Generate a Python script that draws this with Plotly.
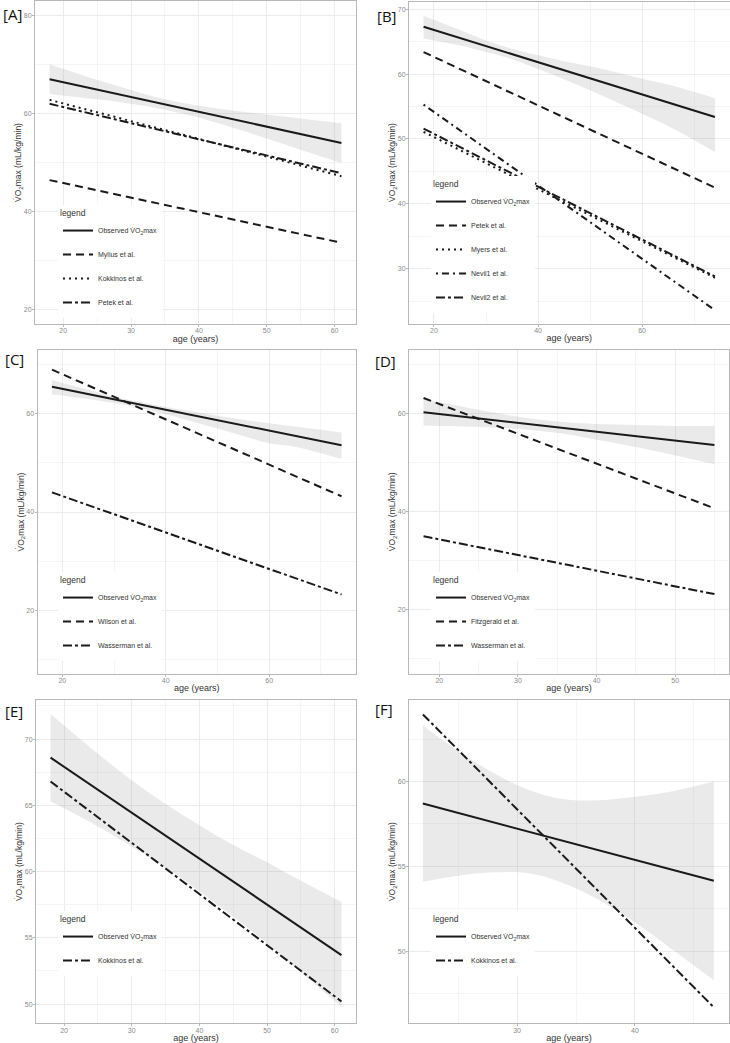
import plotly.graph_objects as go

W, H = 730, 1043

# ---------------- data ----------------
# Panel A
A_age = [18, 61]
A_observed = [67.0, 54.0]
A_mylius = [46.4, 33.6]
A_kokkinos = [62.8, 47.2]
A_petek = [62.0, 47.8]
A_ci_age = [18, 25, 30, 35, 40, 45, 50, 55, 61]
A_ci_upper = [70.1, 66.9, 64.8, 62.9, 61.6, 60.6, 59.8, 59.0, 58.0]
A_ci_lower = [64.0, 62.9, 62.0, 60.8, 59.2, 57.1, 54.9, 52.6, 49.9]

# Panel B
B_age = [18, 74]
B_observed = [67.3, 53.4]
B_petek = [63.4, 42.5]
B_myers = [51.1, 28.6]
B_nevil1 = [55.3, 23.6]
B_nevil2 = [51.6, 28.8]
B_ci_age = [18, 25, 30, 35, 40, 45, 50, 55, 60, 65, 74]
B_ci_upper = [69.0, 66.8, 65.2, 63.9, 62.9, 62.0, 61.2, 60.3, 59.3, 58.4, 56.3]
B_ci_lower = [65.5, 64.4, 63.4, 62.3, 60.8, 59.2, 57.5, 55.7, 53.9, 52.0, 48.0]

# Panel C
C_age = [18, 74]
C_observed = [65.5, 53.6]
C_wilson = [69.0, 43.2]
C_wasserman = [44.0, 23.2]
C_ci_age = [18, 25, 30, 35, 40, 45, 50, 55, 60, 65, 74]
C_ci_upper = [66.9, 64.9, 63.5, 62.4, 61.4, 60.5, 59.6, 58.8, 58.1, 57.4, 56.2]
C_ci_lower = [64.0, 63.0, 62.2, 61.2, 59.9, 58.5, 57.0, 55.5, 54.0, 53.3, 50.8]

# Panel D
D_age = [18, 55]
D_observed = [60.3, 53.6]
D_fitzgerald = [63.2, 40.7]
D_wasserman = [35.0, 23.2]
D_ci_age = [18, 25, 30, 35, 40, 45, 50, 55]
D_ci_upper = [63.0, 60.8, 59.4, 58.4, 57.9, 57.7, 57.5, 57.5]
D_ci_lower = [57.6, 57.3, 56.9, 56.1, 54.7, 53.2, 51.5, 49.7]

# Panel E
E_age = [18, 61]
E_observed = [68.6, 53.7]
E_kokkinos = [66.8, 50.2]
E_ci_age = [18, 25, 30, 35, 40, 45, 50, 55, 61]
E_ci_upper = [71.9, 68.9, 66.9, 65.1, 63.5, 62.0, 60.7, 59.3, 57.7]
E_ci_lower = [65.3, 63.4, 61.9, 60.3, 58.5, 56.6, 54.6, 52.4, 49.8]

# Panel F
F_age = [22, 46.7]
F_observed = [58.7, 54.15]
F_kokkinos = [63.95, 46.7]
F_ci_age = [22, 25, 28, 31, 34, 37, 40, 43, 46.7]
F_ci_upper = [63.3, 61.8, 60.5, 59.5, 58.95, 58.9, 59.1, 59.4, 60.0]
F_ci_lower = [54.1, 54.45, 54.65, 54.6, 54.0, 53.0, 51.7, 50.2, 48.3]

# ---------------- styling ----------------
INK = "#1a1a1a"
BAND = "rgba(150,150,150,0.2)"
FONT = "Liberation Sans"
SOLID = "solid"
DASHED = "8px,5px"
DOTTED = "2px,4px"
TWODASH = "9px,3px,3px,3px"
DOTDASH = "2px,4px,7px,4px"
OBS = "Observed V\u0307O<sub>2</sub>max"

panels = [
    dict(name="A", age=A_age, ci=(A_ci_age, A_ci_upper, A_ci_lower),
         lines=[(OBS, A_observed, SOLID), ("Mylius et al.", A_mylius, DASHED),
                ("Kokkinos et al.", A_kokkinos, DOTTED), ("Petek et al.", A_petek, TWODASH)],
         px=(35, 356, 1, 324), xr=(15.85, 63.15), yr=(17, 83),
         xd=(10, 5), yd=(20, 10), leg=(58, 205)),
    dict(name="B", age=B_age, ci=(B_ci_age, B_ci_upper, B_ci_lower),
         lines=[(OBS, B_observed, SOLID), ("Petek et al.", B_petek, DASHED),
                ("Myers et al.", B_myers, DOTTED), ("Nevil1 et al.", B_nevil1, DOTDASH),
                ("Nevil2 et al.", B_nevil2, TWODASH)],
         px=(409, 729.5, 1.5, 323.5), xr=(15.2, 76.8), yr=(21.55, 71.2),
         xd=(20, 10), yd=(10, 5), leg=(431, 176)),
    dict(name="C", age=C_age, ci=(C_ci_age, C_ci_upper, C_ci_lower),
         lines=[(OBS, C_observed, SOLID), ("Wilson et al.", C_wilson, DASHED),
                ("Wasserman et al.", C_wasserman, TWODASH)],
         px=(37.5, 356, 350, 674), xr=(15.2, 76.8), yr=(7, 73),
         xd=(20, 10), yd=(20, 10), leg=(58, 572)),
    dict(name="D", age=D_age, ci=(D_ci_age, D_ci_upper, D_ci_lower),
         lines=[(OBS, D_observed, SOLID), ("Fitzgerald et al.", D_fitzgerald, DASHED),
                ("Wasserman et al.", D_wasserman, TWODASH)],
         px=(409, 729, 350, 673.5), xr=(16.15, 56.85), yr=(7, 73),
         xd=(10, 5), yd=(20, 10), leg=(431, 572)),
    dict(name="E", age=E_age, ci=(E_ci_age, E_ci_upper, E_ci_lower),
         lines=[(OBS, E_observed, SOLID), ("Kokkinos et al.", E_kokkinos, TWODASH)],
         px=(36, 356, 700, 1023.3), xr=(15.85, 63.15), yr=(48.55, 72.95),
         xd=(10, 5), yd=(5, 2.5), leg=(58, 911)),
    dict(name="F", age=F_age, ci=(F_ci_age, F_ci_upper, F_ci_lower),
         lines=[(OBS, F_observed, SOLID), ("Kokkinos et al.", F_kokkinos, TWODASH)],
         px=(409, 729, 700, 1023.3), xr=(20.82, 47.99), yr=(45.76, 64.8),
         xd=(10, 5), yd=(5, 2.5), leg=(431, 911)),
]

label_pos = {"A": (1, 2), "B": (375, 4), "C": (3, 347), "D": (373, 349),
             "E": (3, 699), "F": (373, 697)}

fig = go.Figure()
layout = dict(width=W, height=H, margin=dict(l=0, r=0, t=0, b=0),
              paper_bgcolor="white", plot_bgcolor="white",
              font=dict(family=FONT, color="#333333"), showlegend=True,
              annotations=[])

for i, p in enumerate(panels, start=1):
    sx = "" if i == 1 else str(i)
    xa, ya = "x" + sx, "y" + sx
    leg = "legend" + ("" if i == 1 else str(i))
    ci_age, ci_up, ci_lo = p["ci"]
    fig.add_trace(go.Scatter(x=ci_age, y=ci_lo, mode="lines", line=dict(width=0, shape="spline"),
                             showlegend=False, hoverinfo="skip", xaxis=xa, yaxis=ya))
    fig.add_trace(go.Scatter(x=ci_age, y=ci_up, mode="lines", line=dict(width=0, shape="spline"),
                             fill="tonexty", fillcolor=BAND, showlegend=False, hoverinfo="skip",
                             xaxis=xa, yaxis=ya))
    for j, (nm, vals, dash) in enumerate(p["lines"]):
        fig.add_trace(go.Scatter(x=p["age"], y=vals, mode="lines", name=nm,
                                 line=dict(color=INK, width=2, dash=dash),
                                 xaxis=xa, yaxis=ya, legend=leg,
                                 legendgroup=f"{p['name']}{j}"))
    x0, x1, y0, y1 = p["px"]
    common = dict(showline=True, mirror=True, linecolor="#b8b8b8", linewidth=1,
                  ticks="outside", ticklen=2, tickcolor="#b8b8b8", tickwidth=1,
                  showgrid=True, gridcolor="#ececec", gridwidth=1, zeroline=False,
                  automargin=False,
                  tickfont=dict(size=7, color="#8a8a8a", family=FONT))
    layout["xaxis" + sx] = dict(common, domain=[x0 / W, x1 / W], range=list(p["xr"]),
                                anchor=ya, tick0=0, dtick=p["xd"][0], ticklabelstandoff=-2,
                                minor=dict(tick0=0, dtick=p["xd"][1], showgrid=True,
                                           gridcolor="#f5f5f5", gridwidth=1, ticks=""),
                                title=dict(text="age (years)", standoff=1,
                                           font=dict(size=9, color="#333333")))
    layout["yaxis" + sx] = dict(common, domain=[1 - y1 / H, 1 - y0 / H], range=list(p["yr"]),
                                anchor=xa, tick0=0, dtick=p["yd"][0], ticklabelstandoff=-1,
                                minor=dict(tick0=0, dtick=p["yd"][1], showgrid=True,
                                           gridcolor="#f5f5f5", gridwidth=1, ticks=""),
                                title=dict(text="V\u0307O<sub>2</sub>max (mL/kg/min)", standoff=0,
                                           font=dict(size=8.5, color="#333333")))
    lx, ly = p["leg"]
    layout[leg] = dict(x=lx / W, y=1 - ly / H, xanchor="left", yanchor="top",
                       xref="paper", yref="paper", bgcolor="white", borderwidth=0,
                       font=dict(size=7, color="#333333", family=FONT),
                       title=dict(text="legend", font=dict(size=8.5, color="#333333")),
                       itemwidth=30, tracegroupgap=5, traceorder="grouped")
    lbx, lby = label_pos[p["name"]]
    layout["annotations"].append(dict(text=f"[{p['name']}]", x=lbx / W, y=1 - lby / H,
                                      xref="paper", yref="paper", xanchor="left", yanchor="top",
                                      showarrow=False, font=dict(size=15, color="#111111",
                                                                 family="Open Sans")))

fig.update_layout(**layout)
fig.write_html("out.html", config={"displayModeBar": False},
               post_script="document.body.style.margin='0';")
